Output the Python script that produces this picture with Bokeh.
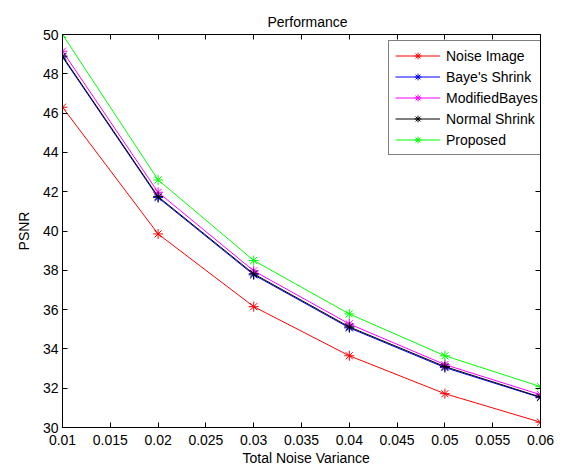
from bokeh.plotting import figure
from bokeh.models import Range1d, FixedTicker, LinearAxis, Legend, LegendItem, Title
from bokeh.embed import file_html
from bokeh.resources import INLINE

variance = [0.01, 0.02, 0.03, 0.04, 0.05, 0.06]
noise_image = [46.3, 39.85, 36.15, 33.65, 31.72, 30.27]
bayes_shrink = [48.85, 41.7, 37.77, 35.07, 33.05, 31.52]
modified_bayes = [49.15, 41.97, 37.97, 35.27, 33.2, 31.67]
normal_shrink = [48.9, 41.75, 37.82, 35.12, 33.1, 31.55]
proposed = [50.0, 42.6, 38.5, 35.78, 33.65, 32.08]

series_names = ["Noise Image", "Baye's Shrink", "ModifiedBayes", "Normal Shrink", "Proposed"]
series_values = [noise_image, bayes_shrink, modified_bayes, normal_shrink, proposed]
series_colors = ["#ff0000", "#0000ff", "#ff00ff", "#000000", "#00ff00"]

x_ticks = [0.01, 0.015, 0.02, 0.025, 0.03, 0.035, 0.04, 0.045, 0.05, 0.055, 0.06]
x_tick_labels = ["0.01", "0.015", "0.02", "0.025", "0.03", "0.035", "0.04", "0.045", "0.05", "0.055", "0.06"]
y_ticks = [30, 32, 34, 36, 38, 40, 42, 44, 46, 48, 50]

FONT = "Liberation Sans"
FS = "14px"

p = figure(width=575, height=466, output_backend="svg", toolbar_location=None,
           x_range=Range1d(0.01, 0.06), y_range=Range1d(30, 50),
           min_border_left=62, min_border_right=35, min_border_top=34, min_border_bottom=39)

p.background_fill_color = "white"
p.border_fill_color = "white"
p.outline_line_color = "black"
p.outline_line_width = 1
p.xgrid.visible = False
p.ygrid.visible = False

p.title.text = "Performance"
p.title.align = "left"
p.title.text_font = FONT
p.title.text_font_size = FS
p.title.text_font_style = "normal"
p.title.text_color = "black"
p.title.offset = 205
p.title.standoff = 9

def style_axis(ax, show_labels=True):
    ax.major_tick_in = 5
    ax.major_tick_out = 0
    ax.minor_tick_line_color = None
    ax.axis_line_color = "black"
    ax.major_tick_line_color = "black"
    ax.major_label_text_font = FONT
    ax.major_label_text_font_size = FS
    ax.major_label_text_color = "black"
    ax.axis_label_text_font = FONT
    ax.axis_label_text_font_size = FS
    ax.axis_label_text_font_style = "normal"
    ax.axis_label_text_color = "black"
    if not show_labels:
        ax.major_label_text_font_size = "0px"
        ax.major_label_text_color = None
        ax.major_label_standoff = 0

xax = p.xaxis[0]
xax.ticker = FixedTicker(ticks=x_ticks)
xax.major_label_overrides = {t: l for t, l in zip(x_ticks, x_tick_labels)}
xax.major_label_standoff = 7
style_axis(xax)

xlabel = Title(text="Total Noise Variance", align="left", offset=180, standoff=0,
               text_font=FONT, text_font_size=FS, text_font_style="normal", text_color="black")
p.add_layout(xlabel, "below")

yax = p.yaxis[0]
yax.ticker = FixedTicker(ticks=y_ticks)
yax.axis_label = "PSNR"
yax.major_label_standoff = 4
yax.axis_label_standoff = 8
style_axis(yax)

top_ax = LinearAxis(ticker=FixedTicker(ticks=x_ticks))
style_axis(top_ax, show_labels=False)
p.add_layout(top_ax, "above")
right_ax = LinearAxis(ticker=FixedTicker(ticks=y_ticks))
style_axis(right_ax, show_labels=False)
p.add_layout(right_ax, "right")

items = []
for name, vals, col in zip(series_names, series_values, series_colors):
    r1 = p.line(variance, vals, line_color=col, line_width=1)
    r2 = p.scatter(variance, vals, marker="asterisk", size=10, line_color=col, line_width=1)
    items.append(LegendItem(label=name, renderers=[r1, r2]))

legend = Legend(items=items, location=(326, 272))
legend.border_line_color = "black"
legend.border_line_width = 1
legend.background_fill_color = "white"
legend.background_fill_alpha = 1
legend.label_text_font = FONT
legend.label_text_font_size = FS
legend.label_text_color = "black"
legend.glyph_width = 45
legend.glyph_height = 17
legend.label_height = 17
legend.label_width = 103
legend.label_standoff = 6
legend.spacing = 4
legend.padding = 6
legend.margin = 0
p.add_layout(legend, "center")

open("out.html", "w").write(file_html(p, INLINE))
